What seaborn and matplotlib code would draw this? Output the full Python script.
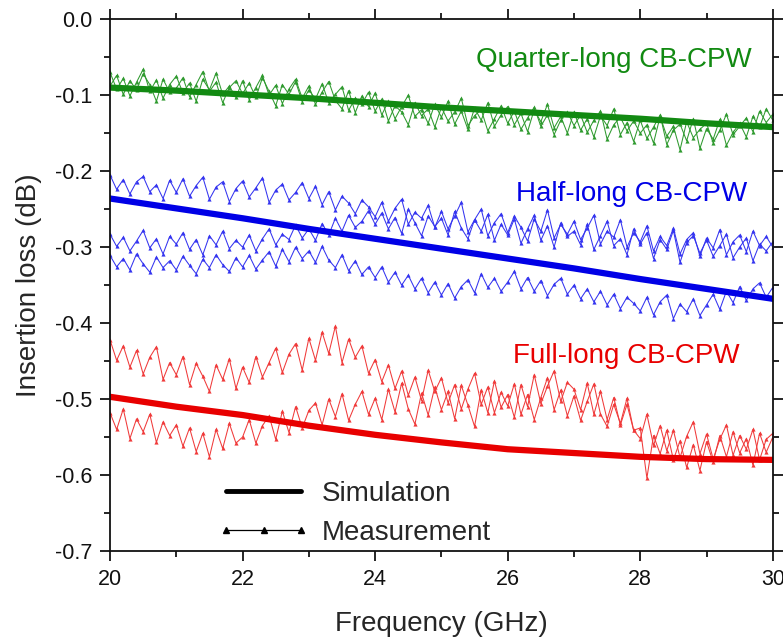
"""
Insertion loss of CB-CPW lines: simulation vs measurement
"""

import numpy as np
import pandas as pd
import matplotlib
matplotlib.use('Agg')
import matplotlib.pyplot as plt
from matplotlib.lines import Line2D
from matplotlib.ticker import MultipleLocator, FormatStrFormatter
import seaborn as sns

# Simulation curves (dB), one value per GHz
freq_sim = [20, 21, 22, 23, 24, 25, 26, 27, 28, 29, 30]
sim_quarter = [-0.090, -0.094, -0.099, -0.104, -0.110, -0.116, -0.121, -0.126, -0.131, -0.137, -0.142]
sim_half = [-0.236, -0.249, -0.262, -0.276, -0.289, -0.302, -0.315, -0.328, -0.342, -0.355, -0.368]
sim_full = [-0.497, -0.510, -0.521, -0.535, -0.547, -0.557, -0.566, -0.571, -0.576, -0.579, -0.580]

# Measured traces, in milli-dB, 20.0 .. 30.0 GHz every 0.1 GHz
freq_meas = np.linspace(20, 30, 101)

meas_quarter_1 = [
    -70, -92, -78, -101, -83, -66, -95, -80, -104, -86,
    -75, -97, -84, -108, -79, -93, -71, -99, -88, -103,
    -81, -106, -90, -74, -100, -87, -111, -92, -79, -104,
    -88, -112, -96, -82, -107, -118, -94, -123, -101, -115,
    -97, -126, -108, -131, -115, -100, -128, -119, -137, -112,
    -129, -108, -138, -121, -145, -117, -133, -110, -141, -126,
    -115, -139, -124, -148, -119, -135, -112, -143, -128, -150,
    -122, -146, -131, -155, -127, -140, -118, -152, -136, -161,
    -133, -157, -142, -126, -165, -146, -138, -160, -131, -170,
    -144, -158, -132, -166, -149, -137, -155, -128, -142, -118, -133]
meas_quarter_2 = [
    -88, -74, -99, -81, -93, -72, -86, -108, -79, -96,
    -91, -77, -102, -86, -69, -95, -83, -110, -90, -81,
    -98, -84, -103, -77, -95, -114, -86, -99, -82, -109,
    -93, -105, -85, -110, -99, -89, -120, -104, -112, -96,
    -121, -105, -134, -114, -122, -139, -110, -127, -118, -142,
    -116, -134, -122, -104, -140, -127, -119, -147, -131, -114,
    -137, -121, -145, -130, -116, -141, -126, -152, -133, -122,
    -140, -126, -149, -133, -121, -158, -139, -129, -147, -134,
    -150, -139, -163, -128, -154, -141, -172, -135, -156, -145,
    -137, -163, -146, -125, -152, -141, -130, -148, -121, -136, -125]

meas_half_1 = [
    -205, -224, -211, -230, -214, -207, -227, -218, -236, -212,
    -228, -210, -233, -219, -208, -237, -221, -214, -240, -223,
    -213, -234, -222, -209, -241, -225, -217, -238, -228, -215,
    -236, -220, -244, -227, -251, -233, -242, -256, -238, -247,
    -260, -241, -266, -249, -237, -270, -254, -262, -245, -274,
    -253, -276, -259, -241, -280, -264, -250, -285, -268, -256,
    -281, -259, -274, -292, -263, -279, -251, -288, -270, -283,
    -266, -290, -275, -258, -296, -279, -287, -264, -300, -281,
    -293, -272, -305, -286, -298, -275, -309, -290, -281, -312,
    -288, -301, -277, -310, -293, -284, -306, -279, -298, -286, -300]
meas_half_2 = [
    -283, -299, -287, -305, -292, -278, -301, -289, -309, -286,
    -296, -281, -303, -290, -310, -285, -297, -279, -302, -291,
    -300, -284, -305, -289, -276, -297, -283, -290, -271, -288,
    -276, -291, -269, -284, -262, -279, -258, -274, -266, -252,
    -270, -255, -276, -261, -282, -250, -268, -285, -259, -273,
    -262, -284, -253, -275, -289, -264, -279, -257, -291, -270,
    -284, -263, -295, -276, -258, -291, -272, -300, -268, -286,
    -279, -297, -270, -303, -285, -266, -298, -289, -310, -276,
    -296, -281, -315, -290, -303, -278, -320, -294, -285, -308,
    -291, -312, -298, -283, -314, -300, -288, -318, -296, -305, -293]
meas_half_3 = [
    -311, -326, -315, -330, -309, -322, -333, -313, -327, -318,
    -330, -312, -324, -335, -316, -327, -310, -323, -332, -314,
    -326, -311, -329, -317, -306, -325, -303, -319, -300, -315,
    -305, -320, -299, -317, -327, -310, -331, -318, -336, -326,
    -340, -326, -346, -333, -350, -337, -355, -341, -360, -346,
    -363, -348, -367, -352, -343, -360, -335, -353, -341, -358,
    -346, -332, -355, -340, -358, -344, -364, -349, -341, -362,
    -350, -368, -355, -372, -358, -376, -362, -381, -366, -374,
    -384, -366, -389, -372, -363, -394, -375, -385, -368, -390,
    -376, -362, -382, -358, -373, -352, -370, -355, -347, -366, -353]

meas_full_1 = [
    -422, -449, -430, -458, -436, -467, -445, -431, -474, -452,
    -468, -444, -481, -453, -470, -490, -455, -474, -447, -486,
    -458, -478, -444, -471, -452, -433, -465, -441, -427, -462,
    -420, -449, -412, -440, -404, -452, -421, -445, -430, -466,
    -448, -477, -455, -486, -463, -495, -471, -502, -462, -490,
    -472, -505, -481, -513, -487, -466, -507, -484, -518, -491,
    -509, -480, -520, -494, -527, -498, -472, -514, -488, -522,
    -496, -528, -503, -480, -520, -536, -507, -532, -499, -541,
    -552, -520, -561, -535, -568, -541, -577, -549, -530, -572,
    -546, -579, -553, -534, -574, -548, -566, -540, -580, -553, -545]
meas_full_2 = [
    -518, -540, -513, -552, -526, -543, -520, -557, -530, -548,
    -534, -562, -538, -569, -545, -576, -540, -565, -532, -558,
    -550, -527, -558, -535, -522, -553, -516, -544, -510, -538,
    -515, -505, -534, -500, -523, -493, -528, -507, -490, -520,
    -499, -527, -487, -517, -479, -513, -533, -492, -521, -484,
    -514, -490, -526, -482, -508, -536, -488, -518, -476, -511,
    -494, -524, -481, -510, -468, -506, -483, -463, -503, -478,
    -487, -514, -479, -520, -490, -527, -498, -534, -507, -541,
    -538, -604, -548, -572, -541, -580, -555, -590, -560, -594,
    -556, -583, -548, -576, -543, -571, -552, -587, -545, -570, -550]

labels = ['Quarter-long CB-CPW', 'Half-long CB-CPW', 'Full-long CB-CPW']
sim_colors = ['#128a12', '#0000e6', '#e80000']
meas_colors = ['#2f9a2f', '#3434f0', '#f03a3a']


def main():
    sns.set_style('ticks')
    plt.rcParams['font.family'] = ['Liberation Sans', 'DejaVu Sans']
    plt.rcParams['axes.unicode_minus'] = False

    fig = plt.figure(figsize=(7.83, 6.40), dpi=100)
    ax = fig.add_axes([0.1405, 0.139, 0.8465, 0.831])

    meas_groups = [
        [meas_quarter_1, meas_quarter_2],
        [meas_half_1, meas_half_2, meas_half_3],
        [meas_full_1, meas_full_2],
    ]
    sims = [sim_quarter, sim_half, sim_full]

    # measured traces: thin lines with small triangle markers
    for group, color in zip(meas_groups, meas_colors):
        for trace in group:
            df = pd.DataFrame({'freq': freq_meas, 'loss': np.array(trace) / 1000.0})
            sns.lineplot(data=df, x='freq', y='loss', ax=ax, color=color,
                         lw=0.75, marker='^', ms=3.0, mew=0, estimator=None)

    # simulation curves: thick
    for sim, color in zip(sims, sim_colors):
        df = pd.DataFrame({'freq': freq_sim, 'loss': sim})
        sns.lineplot(data=df, x='freq', y='loss', ax=ax, color=color,
                     lw=4.5, estimator=None)

    # curve labels
    label_pos = [(29.68, -0.063), (29.62, -0.239), (29.50, -0.453)]
    for text, (x, y), color in zip(labels, label_pos, sim_colors):
        ax.text(x, y, text, color=color, fontsize=20, ha='right', va='baseline')

    ax.set_xlim(20, 30)
    ax.set_ylim(-0.7, 0.0)
    ax.xaxis.set_major_locator(MultipleLocator(2))
    ax.xaxis.set_minor_locator(MultipleLocator(1))
    ax.yaxis.set_major_locator(MultipleLocator(0.1))
    ax.yaxis.set_minor_locator(MultipleLocator(0.05))
    ax.yaxis.set_major_formatter(FormatStrFormatter('%.1f'))
    ax.tick_params(which='both', direction='out', top=True, right=True,
                   width=1.2, color='black', labelcolor='#111111')
    ax.tick_params(which='major', length=7, labelsize=15.5, pad=6)
    ax.tick_params(which='minor', length=4)
    for side in ax.spines.values():
        side.set_linewidth(1.3)
        side.set_color('#111111')
        side.set_visible(True)

    ax.set_xlabel('Frequency (GHz)', fontsize=20, labelpad=15)
    ax.set_ylabel('Insertion loss (dB)', fontsize=20, labelpad=9)

    handles = [
        Line2D([], [], color='black', lw=3.5),
        Line2D([], [], color='black', lw=0.9, marker='^', ms=4.5),
    ]
    ax.legend(handles, ['Simulation', 'Measurement'], loc='upper left',
              bbox_to_anchor=(0.1625, 0.132), frameon=False, fontsize=20,
              handlelength=3.3, handletextpad=0.45, labelspacing=0.47,
              borderpad=0, borderaxespad=0, numpoints=3)

    fig.savefig('out.png', dpi=100)


if __name__ == "__main__":
    main()
